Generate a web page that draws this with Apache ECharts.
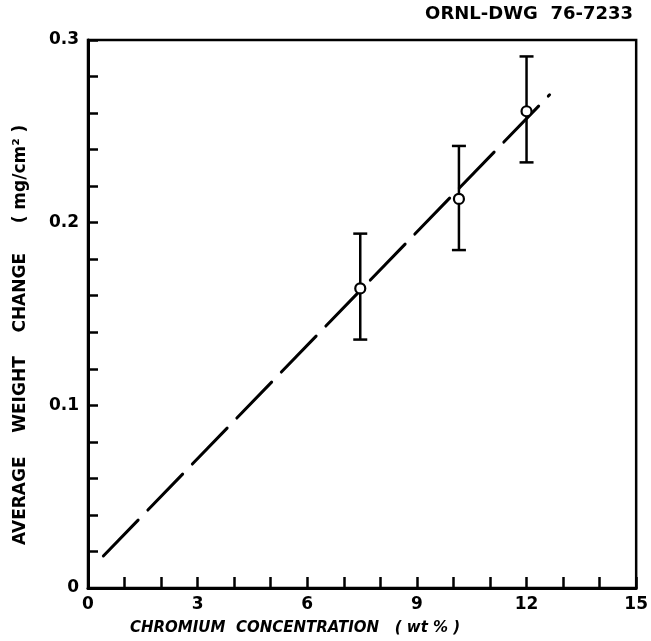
<!DOCTYPE html>
<html>
<head>
<meta charset="utf-8">
<script src="https://cdn.jsdelivr.net/npm/echarts@6/dist/echarts.min.js"></script>
<style>
  html, body { margin: 0; padding: 0; background: #fff; }
  #main { width: 651px; height: 641px; }
</style>
</head>
<body>
<div id="main"></div>
<script>
// measured points: chromium (wt %) vs average weight change (mg/cm2)
var chromium = [7.45, 10.15, 12.0];
var weightChange = [0.164, 0.213, 0.261];
var errLow = [0.136, 0.185, 0.233];
var errHigh = [0.194, 0.242, 0.291];
// dashed fit line end points
var fitX = [0.42, 12.63];
var fitY = [0.0175, 0.270];
// labelled ticks
var xLabels = [0, 3, 6, 9, 12, 15];
var yLabels = ["0", "0.1", "0.2", "0.3"];

var FONT = "DejaVu Sans";
var myChart = echarts.init(document.getElementById("main"));

var points = chromium.map(function (x, i) { return [x, weightChange[i]]; });
var bars = chromium.map(function (x, i) { return [x, errLow[i], errHigh[i]]; });
var fit = fitX.map(function (x, i) { return [x, fitY[i]]; });

var option = {
  animation: false,
  backgroundColor: "#fff",
  grid: {
    left: 88, right: 11, top: 40, bottom: 53,
    show: true,
    borderColor: "#000",
    borderWidth: 2.5
  },
  xAxis: {
    type: "value",
    min: 0, max: 15, interval: 1,
    axisLine: { lineStyle: { color: "#000", width: 3 } },
    axisTick: { inside: true, length: 11, lineStyle: { color: "#000", width: 2.5 } },
    splitLine: { show: false },
    axisLabel: {
      margin: 8,
      color: "#000",
      fontFamily: FONT,
      fontWeight: "bold",
      fontSize: 17,
      formatter: function (v) {
        return xLabels.indexOf(Math.round(v)) >= 0 ? String(Math.round(v)) : "";
      }
    }
  },
  yAxis: {
    type: "value",
    min: 0, max: 0.3, interval: 0.02,
    axisLine: { lineStyle: { color: "#000", width: 3 } },
    axisTick: { inside: true, length: 10, lineStyle: { color: "#000", width: 2.5 } },
    splitLine: { show: false },
    axisLabel: {
      margin: 9,
      color: "#000",
      fontFamily: FONT,
      fontWeight: "bold",
      fontSize: 17,
      formatter: function (v) {
        var k = Math.round(v * 100);
        if (k % 10 !== 0) return "";
        return yLabels[k / 10];
      }
    }
  },
  graphic: [
    {
      type: "text", right: 18, top: 5,
      style: { text: "ORNL-DWG  76-7233", font: "bold 18px " + FONT, fill: "#000" }
    },
    {
      type: "text", left: 130, top: 621,
      style: { text: "CHROMIUM  CONCENTRATION   ( wt % )", font: "italic bold 15px " + FONT, fill: "#000" }
    },
    {
      type: "text", x: 12, y: 545, rotation: Math.PI / 2,
      style: { text: "AVERAGE    WEIGHT    CHANGE     ( mg/cm² )", font: "bold 17px " + FONT, fill: "#000" }
    }
  ],
  series: [
    {
      type: "line",
      data: fit,
      symbol: "none",
      lineStyle: { color: "#000", width: 3, type: [50, 14], cap: "round" },
      z: 2
    },
    {
      type: "custom",
      data: bars,
      renderItem: function (params, api) {
        var lo = api.coord([api.value(0), api.value(1)]);
        var hi = api.coord([api.value(0), api.value(2)]);
        var hw = 7;
        var st = { stroke: "#000", lineWidth: 2.5 };
        return {
          type: "group",
          children: [
            { type: "line", shape: { x1: lo[0], y1: lo[1], x2: hi[0], y2: hi[1] }, style: st },
            { type: "line", shape: { x1: lo[0] - hw, y1: lo[1], x2: lo[0] + hw, y2: lo[1] }, style: st },
            { type: "line", shape: { x1: hi[0] - hw, y1: hi[1], x2: hi[0] + hw, y2: hi[1] }, style: st }
          ]
        };
      },
      z: 3
    },
    {
      type: "scatter",
      data: points,
      symbol: "circle",
      symbolSize: 10,
      itemStyle: { color: "#ffffff", opacity: 1, borderColor: "#000", borderWidth: 2.2 },
      emphasis: { disabled: true },
      z: 4
    }
  ]
};
myChart.setOption(option);
</script>
</body>
</html>
